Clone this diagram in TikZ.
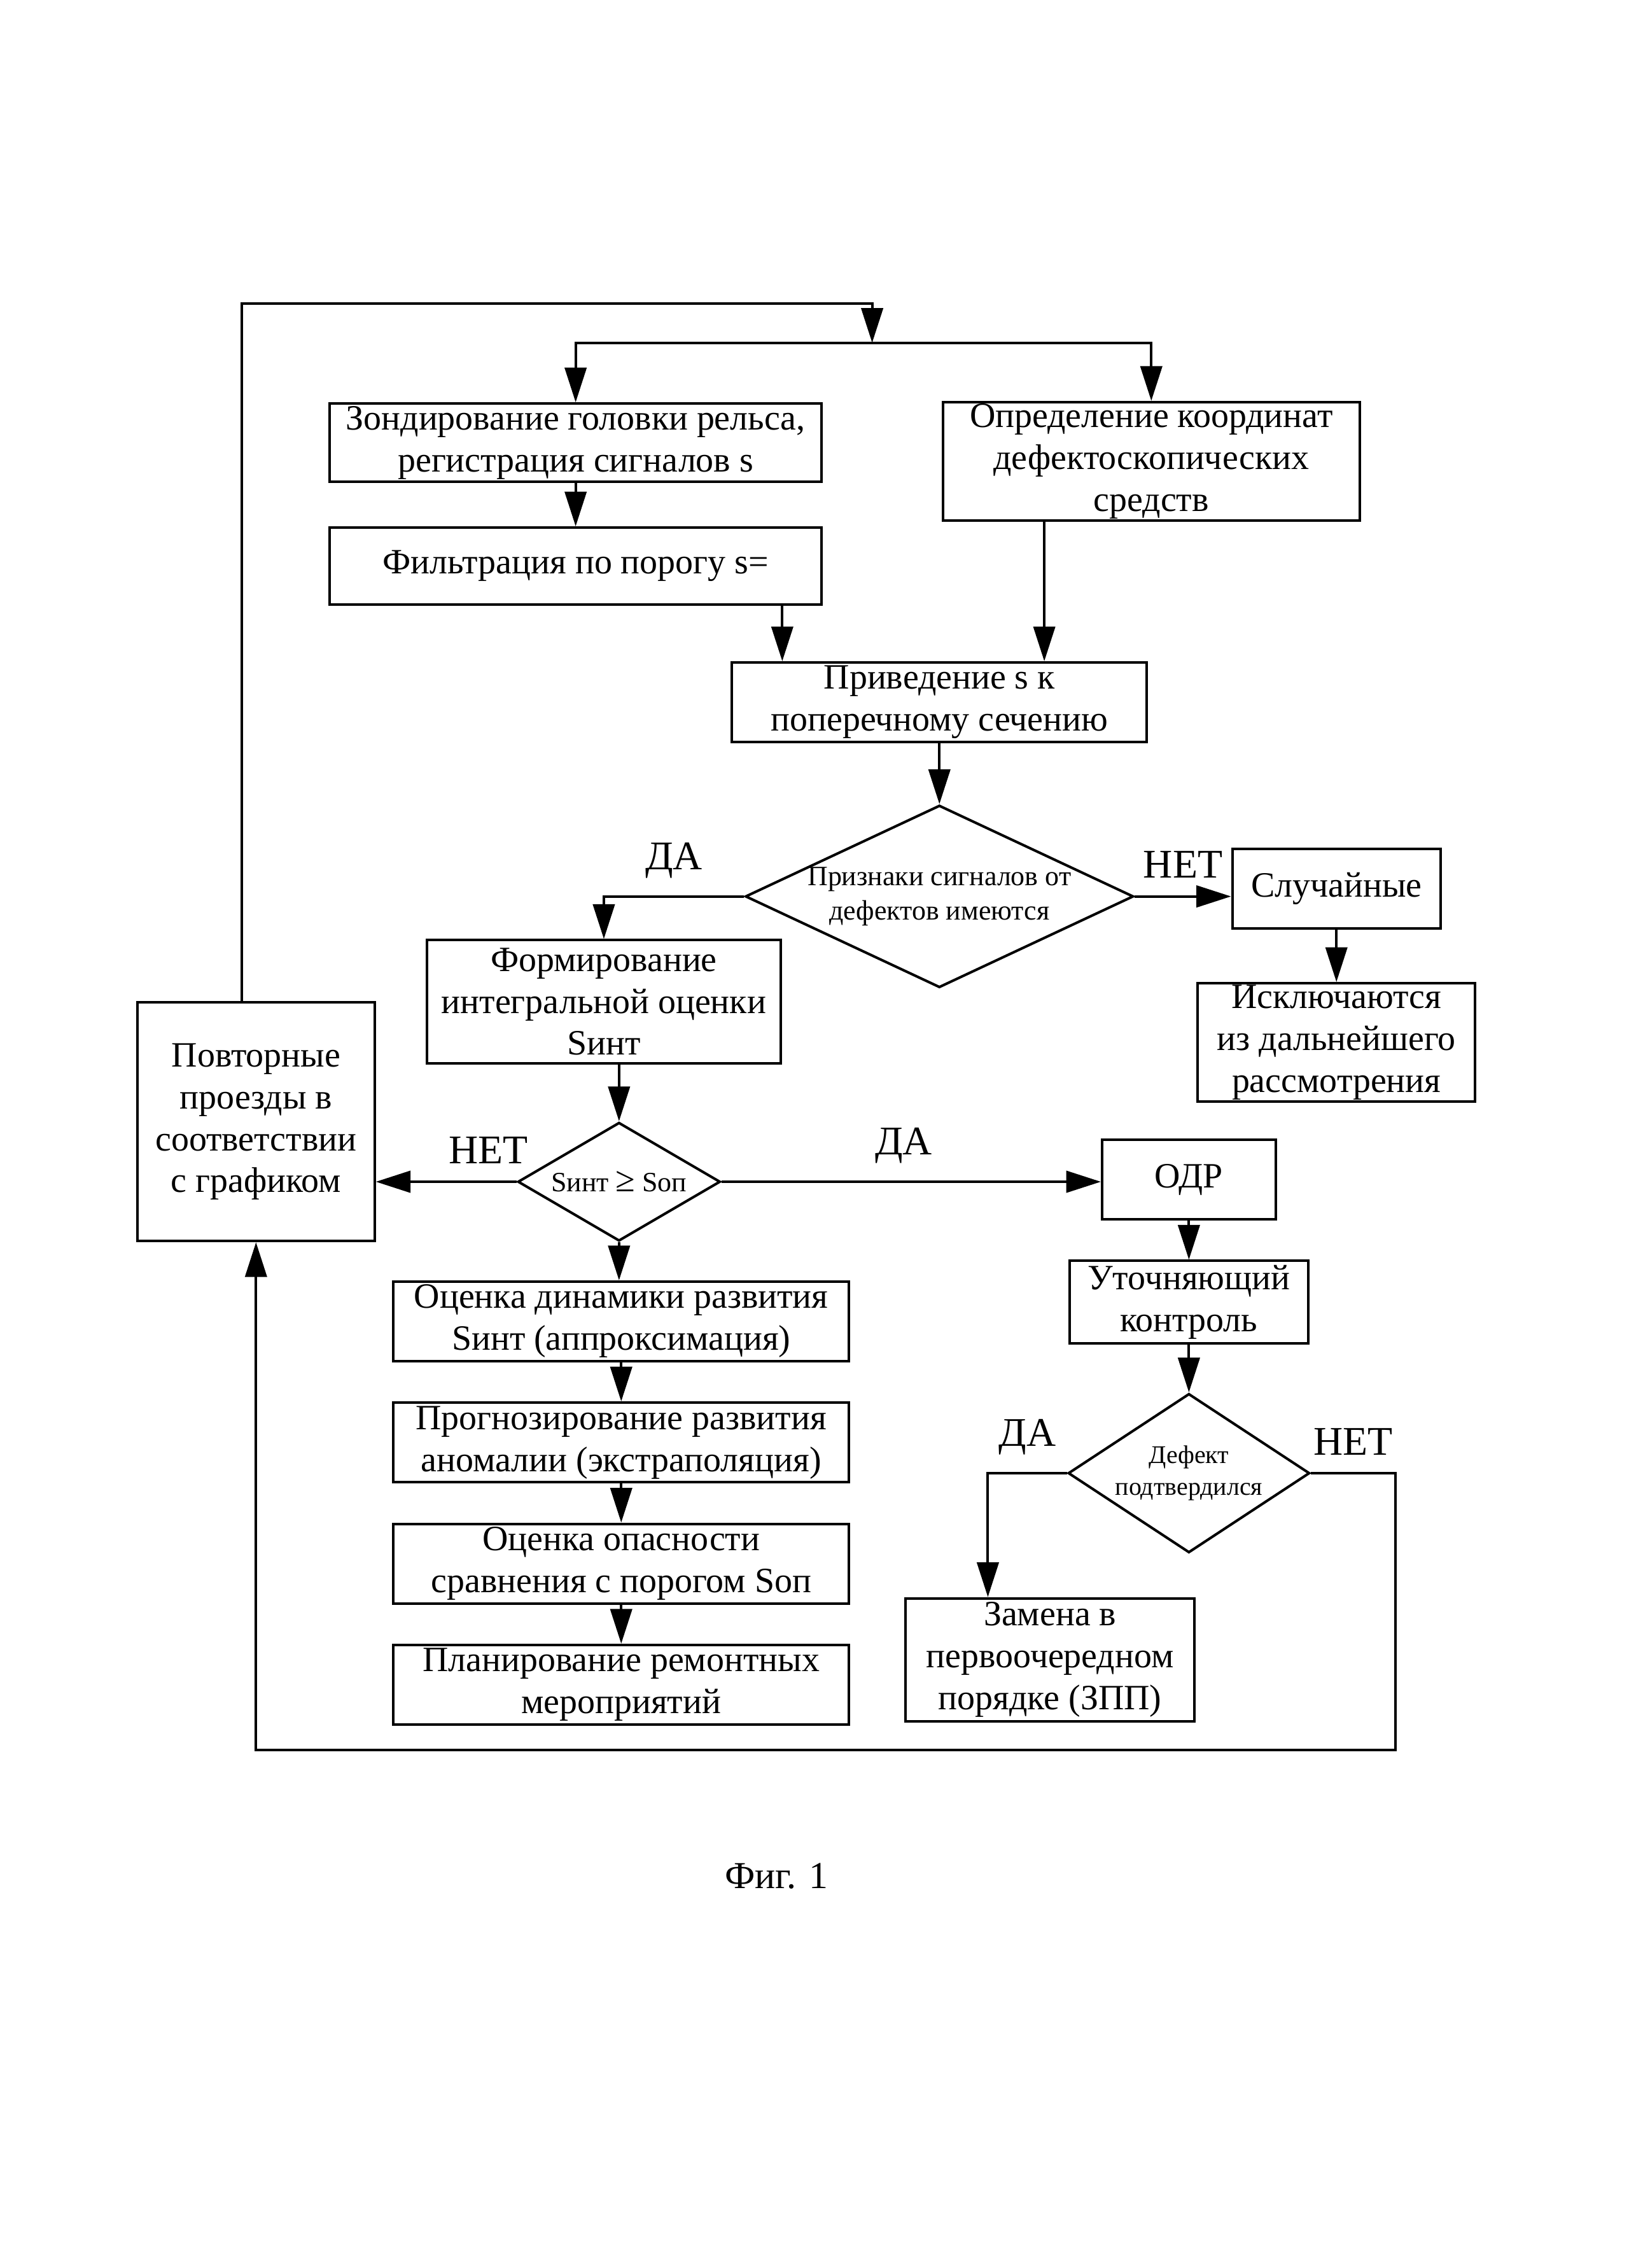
\documentclass[tikz,border=0pt]{standalone}
\usepackage{fontspec}
\setmainfont{Liberation Serif}
\usetikzlibrary{arrows.meta,shapes.geometric,positioning}

\begin{document}
\begin{tikzpicture}[
    x=0.02cm, y=-0.02cm,
    box/.style={rectangle, draw, line width=1pt, inner xsep=2pt, inner ysep=0pt, align=center, font=\fontsize{14}{16.5}\selectfont},
    decision/.style={diamond, draw, line width=1pt, inner sep=0pt, align=center, font=\fontsize{11}{13.5}\selectfont},
    arrow/.style={-{Triangle[length=4.8mm,width=3mm]}, line width=1pt},
    lbl/.style={font=\fontsize{16}{18}\selectfont, inner sep=1pt}
]
    \useasboundingbox (0,0) rectangle (1126,1568);

    % Acquisition
    \node[box, minimum width=6.8cm, minimum height=1.08cm] (zond) at (398,306) {Зондирование головки рельса,\\регистрация сигналов s};
    \node[box, minimum width=6.8cm, minimum height=1.06cm, below=0.6cm of zond] (filt) {Фильтрация по порогу s=};
    \node[box, minimum width=5.76cm, minimum height=1.64cm] (opr) at (796,319) {Определение координат\\дефектоскопических\\средств};
    \node[box, minimum width=5.74cm, minimum height=1.1cm] (priv) at (649.5,485.5) {Приведение s к\\поперечному сечению};

    % First decision
    \node[decision, minimum width=5.28cm, minimum height=2.48cm, aspect=2.13, below=0.84cm of priv] (signs) {Признаки сигналов от\\дефектов имеются};
    \node[box, minimum width=2.88cm, minimum height=1.1cm] (rand) at (924,614.5) {Случайные};
    \node[box, minimum width=3.84cm, minimum height=1.64cm, below=0.72cm of rand] (excl) {Исключаются\\из дальнейшего\\рассмотрения};
    \node[box, minimum width=4.9cm, minimum height=1.7cm] (form) at (417.5,692.5) {Формирование\\интегральной оценки\\Sинт};

    % Threshold check
    \node[decision, minimum width=2.8cm, minimum height=1.64cm, aspect=1.7] (cmp) at (428,817) {Sинт {\fontsize{14}{14}\selectfont ≥} Sоп};
    \node[box, minimum width=3.28cm, minimum height=3.3cm] (repeat) at (177,775.5) {Повторные\\проезды в\\соответствии\\с графиком};
    \node[box, minimum width=2.4cm, minimum height=1.1cm] (odr) at (822,815.5) {ОДР};
    \node[box, minimum width=3.3cm, minimum height=1.14cm, below=0.54cm of odr] (refine) {Уточняющий\\контроль};
    \node[decision, minimum width=3.34cm, minimum height=2.2cm, aspect=1.52, font=\fontsize{10}{12.5}\selectfont, below=0.66cm of refine] (confirm) {Дефект\\подтвердился};
    \node[box, minimum width=4cm, minimum height=1.7cm] (replace) at (726,1147.5) {Замена в\\первоочередном\\порядке (ЗПП)};

    % Forecast chain
    \node[box, minimum width=6.3cm, minimum height=1.1cm] (dyn) at (429.5,913.5) {Оценка динамики развития\\Sинт (аппроксимация)};
    \node[box, minimum width=6.3cm, minimum height=1.1cm, below=0.54cm of dyn] (forecast) {Прогнозирование развития\\аномалии (экстраполяция)};
    \node[box, minimum width=6.3cm, minimum height=1.1cm, below=0.54cm of forecast] (danger) {Оценка опасности\\сравнения с порогом Sоп};
    \node[box, minimum width=6.3cm, minimum height=1.1cm, below=0.54cm of danger] (plan) {Планирование ремонтных\\мероприятий};

    \node[font=\fontsize{15}{18}\selectfont] (fig) at (537,1297) {Фиг. 1};

    % Loop points
    \coordinate (top) at (603,210);
    \coordinate (split) at (603,237);
    \coordinate (loop) at (965,1210);

    % Arrows
    \draw[arrow] ([xshift=-2mm]repeat.north) |- (top) -- (split);
    \draw[arrow] (split) -| (zond);
    \draw[arrow] (split) -| (opr);
    \draw[arrow] (zond) -- (filt);
    \draw[arrow] ([xshift=-5.6mm]filt.south east) -- ([xshift=-5.6mm]filt.south east |- priv.north);
    \draw[arrow] ([xshift=-1.48cm]opr.south) -- ([xshift=-1.48cm]opr.south |- priv.north);
    \draw[arrow] (priv) -- (signs);
    \draw[arrow] (signs.west) -| node[lbl, pos=0.25, above=2mm] {ДА} (form);
    \draw[arrow] (signs.east) -- (signs.east -| rand.west) node[lbl, midway, above=2mm] {НЕТ};
    \draw[arrow] (rand) -- (excl);
    \draw[arrow] (form.south -| cmp.north) -- (cmp.north);
    \draw[arrow] (cmp.west) -- (cmp.west -| repeat.east) node[lbl, pos=0.2, above=2mm] {НЕТ};
    \draw[arrow] (cmp.east) -- (cmp.east -| odr.west) node[lbl, pos=0.48, above=2mm] {ДА};
    \draw[arrow] (odr) -- (refine);
    \draw[arrow] (refine) -- (confirm);
    \draw[arrow] (confirm.west) -| node[lbl, pos=0.25, above=2mm] {ДА} ([xshift=-8.6mm]replace.north);
    \draw[arrow] (confirm.east) -| node[lbl, pos=0.25, above=2mm] {НЕТ} (loop) -| (repeat.south);
    \draw[arrow] (cmp.south) -- (cmp.south |- dyn.north);
    \draw[arrow] (dyn) -- (forecast);
    \draw[arrow] (forecast) -- (danger);
    \draw[arrow] (danger) -- (plan);
\end{tikzpicture}
\end{document}
